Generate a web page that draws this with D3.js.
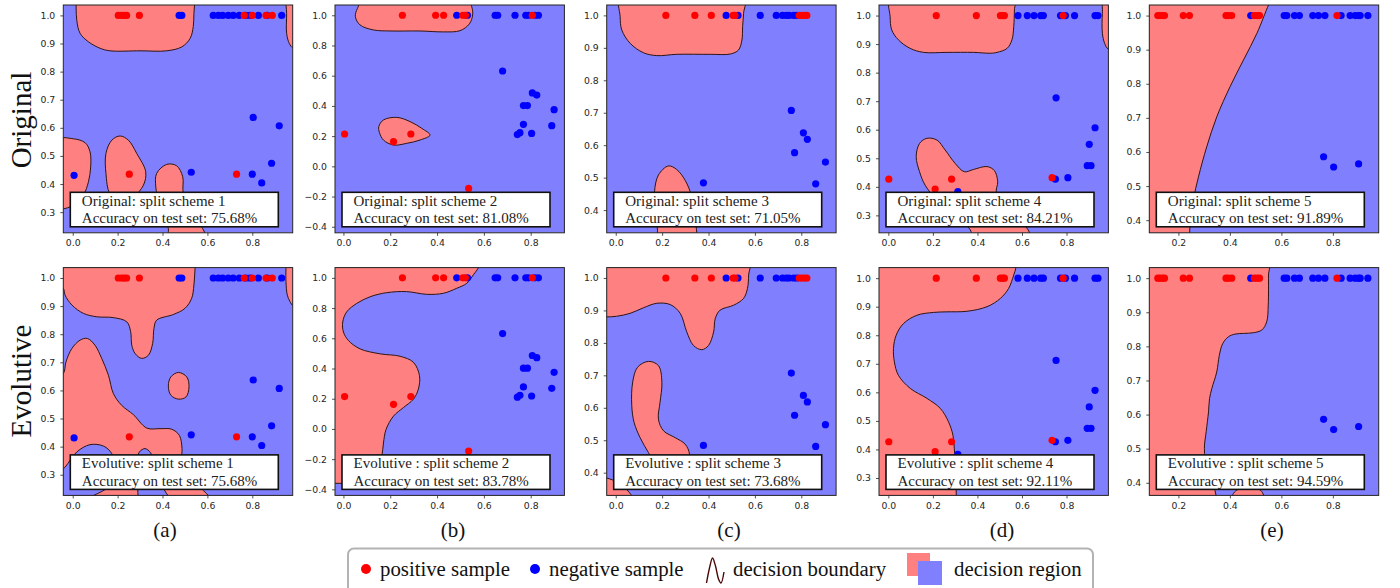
<!DOCTYPE html>
<html><head><meta charset="utf-8">
<script src="https://cdn.jsdelivr.net/npm/d3@7"></script>
<style>body{margin:0;background:#fff} svg{display:block}</style>
</head><body>
<svg id="chart" width="1400" height="588"></svg>
<script>
// ---------------- data ----------------
const columnLabels = ["(a)", "(b)", "(c)", "(d)", "(e)"];
const rowLabels = ["Original", "Evolutive"];
const legendLabels = ["positive sample", "negative sample", "decision boundary", "decision region"];

const xDomains = [[-0.042, 0.98], [-0.036, 0.944], [-0.039, 0.95], [-0.042, 0.988], [0.087, 0.978]];
const yDomains = [[0.2265, 1.037], [-0.44, 1.068], [0.33, 1.032], [0.239, 1.037], [0.363, 1.031]];
const xTicks = [[0, 0.2, 0.4, 0.6, 0.8], [0, 0.2, 0.4, 0.6, 0.8], [0, 0.2, 0.4, 0.6, 0.8], [0, 0.2, 0.4, 0.6, 0.8], [0.2, 0.4, 0.6, 0.8]];
const yTicks = [
  [0.3, 0.4, 0.5, 0.6, 0.7, 0.8, 0.9, 1.0],
  [-0.4, -0.2, 0.0, 0.2, 0.4, 0.6, 0.8, 1.0],
  [0.4, 0.5, 0.6, 0.7, 0.8, 0.9, 1.0],
  [0.3, 0.4, 0.5, 0.6, 0.7, 0.8, 0.9, 1.0],
  [0.4, 0.5, 0.6, 0.7, 0.8, 0.9, 1.0]
];

const originalTitles = ["Original: split scheme 1", "Original: split scheme 2", "Original: split scheme 3", "Original: split scheme 4", "Original: split scheme 5"];
const evolutiveTitles = ["Evolutive: split scheme 1", "Evolutive : split scheme 2", "Evolutive : split scheme 3", "Evolutive : split scheme 4", "Evolutive : split scheme 5"];
const originalAccuracy = [75.68, 81.08, 71.05, 84.21, 91.89];
const evolutiveAccuracy = [75.68, 83.78, 73.68, 92.11, 94.59];

// samples (same for both rows of a column)
const posA = [[0.203,1],[0.218,1],[0.229,1],[0.240,1],[0.297,1],[0.764,1],[0.800,1],[0.861,1],[0.889,1],[0.252,0.435],[0.730,0.435]];
const negA = [[0.474,1],[0.486,1],[0.626,1],[0.649,1],[0.668,1],[0.693,1],[0.715,1],[0.742,1],[0.771,1],[0.790,1],[0.827,1],[0.866,1],[0.931,1],[0.006,0.431],[0.528,0.442],[0.800,0.435],[0.842,0.404],[0.886,0.474],[0.804,0.637],[0.920,0.607]];
const posB = [[0.005,0.214],[0.214,0.163],[0.288,0.214],[0.535,-0.146],[0.252,1],[0.394,1],[0.428,1],[0.510,1],[0.521,1],[0.807,1]];
const negB = [[0.484,1],[0.530,1],[0.648,1],[0.659,1],[0.733,1],[0.779,1],[0.790,1],[0.818,1],[0.833,1],[0.680,0.631],[0.807,0.486],[0.826,0.472],[0.769,0.402],[0.786,0.402],[0.900,0.375],[0.769,0.278],[0.743,0.210],[0.754,0.223],[0.804,0.218],[0.890,0.269]];
const posC = [[0.216,1],[0.341,1],[0.412,1],[0.506,1],[0.514,1],[0.791,1],[0.803,1],[0.814,1],[0.824,1]];
const negC = [[0.476,1],[0.527,1],[0.623,1],[0.692,1],[0.719,1],[0.735,1],[0.747,1],[0.767,1],[0.781,1],[0.378,0.484],[0.757,0.707],[0.809,0.638],[0.826,0.618],[0.771,0.577],[0.904,0.548],[0.862,0.481]];
const posD = [[0.002,0.427],[0.210,0.392],[0.284,0.427],[0.735,0.432],[0.215,1],[0.395,1],[0.503,1],[0.513,1],[0.521,1],[0.785,1]];
const negD = [[0.750,0.427],[0.806,0.432],[0.312,0.383],[0.753,0.712],[0.928,0.607],[0.902,0.549],[0.893,0.474],[0.910,0.474],[0.582,1],[0.624,1],[0.654,1],[0.684,1],[0.696,1],[0.773,1],[0.795,1],[0.836,1],[0.928,1],[0.941,1]];
const posE = [[0.120,1],[0.129,1],[0.139,1],[0.146,1],[0.219,1],[0.243,1],[0.385,1],[0.394,1],[0.407,1],[0.495,1],[0.506,1],[0.515,1],[0.816,1]];
const negE = [[0.481,1],[0.611,1],[0.621,1],[0.651,1],[0.670,1],[0.722,1],[0.744,1],[0.769,1],[0.832,1],[0.867,1],[0.887,1],[0.900,1],[0.906,1],[0.936,1],[0.764,0.586],[0.803,0.556],[0.900,0.565]];

// positive decision regions (outlines in data units)
const origA = [
  [[0.015,1.12],[0.015,1.07],[0.018,0.983],[0.033,0.936],[0.07,0.906],[0.122,0.883],[0.166,0.874],[0.30,0.874],[0.419,0.874],[0.486,0.888],[0.523,0.918],[0.537,0.96],[0.54,1.007],[0.545,1.07],[0.545,1.12]],
  [[0.953,1.12],[0.953,1.007],[0.953,0.936],[0.965,0.90],[0.983,0.883],[1.04,0.883],[1.04,1.12]],
  [[-0.08,0.556],[0.003,0.561],[0.055,0.547],[0.077,0.515],[0.080,0.461],[0.070,0.408],[0.048,0.361],[0.010,0.329],[-0.034,0.313],[-0.08,0.313]],
  [[0.211,0.571],[0.248,0.556],[0.285,0.509],[0.325,0.444],[0.315,0.396],[0.27,0.355],[0.211,0.343],[0.166,0.366],[0.148,0.438],[0.148,0.509],[0.174,0.556]],
  [[0.419,0.47],[0.463,0.465],[0.49,0.426],[0.493,0.366],[0.537,0.295],[0.589,0.226],[0.597,0.20],[0.426,0.20],[0.426,0.242],[0.389,0.319],[0.370,0.39],[0.374,0.438]]
];
const evolA = [
  [[-0.071,1.11],[-0.071,0.975],[-0.042,0.963],[-0.034,0.939],[-0.004,0.904],[0.048,0.874],[0.107,0.862],[0.181,0.859],[0.241,0.844],[0.258,0.809],[0.263,0.761],[0.278,0.731],[0.307,0.714],[0.337,0.725],[0.356,0.767],[0.362,0.821],[0.374,0.85],[0.448,0.87],[0.5,0.892],[0.53,0.928],[0.54,0.975],[0.545,1.034],[0.552,1.11]],
  [[0.953,1.11],[0.950,1.034],[0.950,0.987],[0.956,0.939],[0.968,0.916],[0.983,0.901],[1.04,0.90],[1.04,1.11]],
  [[-0.071,0.654],[-0.042,0.66],[-0.03,0.702],[-0.004,0.749],[0.033,0.779],[0.065,0.785],[0.099,0.761],[0.129,0.714],[0.159,0.654],[0.181,0.589],[0.218,0.547],[0.27,0.514],[0.33,0.466],[0.389,0.464],[0.441,0.462],[0.475,0.44],[0.487,0.393],[0.486,0.345],[0.523,0.298],[0.582,0.244],[0.627,0.203],[0.627,0.155],[-0.071,0.155]],
  [[0.471,0.664],[0.508,0.648],[0.518,0.613],[0.505,0.577],[0.471,0.569],[0.437,0.583],[0.426,0.616],[0.437,0.648]]
];
const holesEvolA = [
  [[-0.071,0.298],[-0.034,0.327],[0.018,0.381],[0.077,0.407],[0.137,0.402],[0.174,0.375],[0.189,0.321],[0.166,0.262],[0.092,0.226],[0.018,0.203],[-0.071,0.203]],
  [[0.292,0.155],[0.292,0.203],[0.288,0.274],[0.285,0.345],[0.297,0.381],[0.322,0.393],[0.347,0.378],[0.367,0.333],[0.389,0.274],[0.419,0.232],[0.448,0.203],[0.448,0.155]]
];
const origB = [
  [[0.085,1.10],[0.06,1.046],[0.051,0.991],[0.071,0.936],[0.128,0.903],[0.199,0.896],[0.327,0.896],[0.427,0.89],[0.498,0.898],[0.538,0.943],[0.552,1.002],[0.548,1.057],[0.534,1.10]],
  [[0.151,0.263],[0.171,0.307],[0.228,0.324],[0.285,0.296],[0.335,0.251],[0.37,0.207],[0.327,0.174],[0.27,0.152],[0.214,0.141],[0.171,0.174],[0.154,0.223]]
];
const evolB = [
  [[0.584,1.109],[0.577,1.069],[0.555,1.02],[0.527,0.964],[0.484,0.931],[0.427,0.898],[0.356,0.891],[0.27,0.909],[0.185,0.902],[0.114,0.875],[0.057,0.831],[0.014,0.775],[-0.003,0.708],[0.0,0.642],[0.021,0.586],[0.071,0.53],[0.157,0.497],[0.242,0.481],[0.299,0.441],[0.325,0.352],[0.32,0.263],[0.299,0.197],[0.256,0.141],[0.214,0.085],[0.182,-0.004],[0.171,-0.093],[0.164,-0.182],[0.142,-0.293],[0.085,-0.349],[-0.043,-0.36],[-0.06,-0.36],[-0.06,1.109]]
];
const origC = [
  [[0.022,1.06],[0.019,0.996],[0.026,0.955],[0.062,0.914],[0.119,0.885],[0.177,0.876],[0.263,0.88],[0.407,0.88],[0.494,0.881],[0.529,0.893],[0.544,0.924],[0.547,0.965],[0.551,1.006],[0.554,1.06]],
  [[0.227,0.536],[0.263,0.525],[0.299,0.492],[0.328,0.441],[0.342,0.379],[0.35,0.328],[0.357,0.30],[0.177,0.30],[0.18,0.338],[0.17,0.40],[0.167,0.456],[0.184,0.508]]
];
const evolC = [
  [[-0.068,1.06],[-0.068,0.88],[-0.039,0.88],[0.004,0.882],[0.062,0.891],[0.119,0.908],[0.177,0.922],[0.235,0.918],[0.278,0.891],[0.306,0.834],[0.335,0.792],[0.371,0.779],[0.40,0.792],[0.422,0.834],[0.429,0.875],[0.45,0.901],[0.508,0.916],[0.551,0.937],[0.568,0.968],[0.573,1.009],[0.575,1.06]],
  [[0.141,0.743],[0.184,0.73],[0.199,0.679],[0.191,0.617],[0.184,0.565],[0.206,0.529],[0.256,0.508],[0.299,0.488],[0.318,0.457],[0.306,0.41],[0.235,0.40],[0.177,0.421],[0.141,0.462],[0.105,0.508],[0.079,0.555],[0.069,0.607],[0.073,0.679],[0.094,0.725]],
  [[-0.068,0.39],[-0.039,0.384],[0.012,0.369],[0.047,0.348],[0.069,0.328],[0.076,0.307],[-0.068,0.307]]
];
const origD = [
  [[0.011,1.06],[0.008,0.996],[0.015,0.95],[0.045,0.915],[0.098,0.885],[0.158,0.871],[0.263,0.871],[0.383,0.871],[0.458,0.868],[0.488,0.871],[0.533,0.885],[0.555,0.915],[0.563,0.961],[0.566,1.02],[0.566,1.06]],
  [[0.968,1.06],[0.961,1.008],[0.961,0.938],[0.971,0.903],[0.988,0.882],[1.028,0.88],[1.028,1.06]],
  [[0.173,0.570],[0.218,0.564],[0.255,0.529],[0.30,0.482],[0.341,0.453],[0.383,0.461],[0.443,0.471],[0.476,0.457],[0.491,0.418],[0.485,0.379],[0.533,0.33],[0.593,0.284],[0.635,0.239],[0.645,0.214],[0.383,0.214],[0.368,0.249],[0.293,0.307],[0.218,0.354],[0.165,0.406],[0.14,0.453],[0.125,0.506],[0.14,0.552]]
];
const evolD = [
  [[0.578,1.06],[0.573,1.037],[0.563,1.011],[0.54,0.964],[0.503,0.929],[0.443,0.90],[0.353,0.884],[0.263,0.882],[0.203,0.88],[0.128,0.87],[0.068,0.841],[0.035,0.80],[0.023,0.754],[0.027,0.707],[0.045,0.66],[0.098,0.614],[0.173,0.579],[0.233,0.544],[0.27,0.497],[0.29,0.45],[0.296,0.404],[0.30,0.357],[0.303,0.287],[0.305,0.24],[0.305,0.2],[-0.068,0.2],[-0.068,1.06]]
];
const origE = [
  [[0.064,1.051],[0.563,1.051],[0.55,1.031],[0.505,0.948],[0.453,0.87],[0.401,0.792],[0.349,0.703],[0.31,0.615],[0.278,0.527],[0.258,0.459],[0.245,0.38],[0.235,0.341],[0.064,0.341]]
];
const evolE = [
  [[0.064,1.048],[0.55,1.048],[0.55,1.009],[0.549,0.921],[0.543,0.872],[0.524,0.848],[0.492,0.84],[0.453,0.838],[0.42,0.836],[0.394,0.828],[0.372,0.808],[0.359,0.774],[0.349,0.725],[0.33,0.677],[0.321,0.647],[0.317,0.608],[0.308,0.55],[0.301,0.501],[0.31,0.442],[0.336,0.393],[0.346,0.364],[0.348,0.344],[0.064,0.344]],
  [[0.407,0.344],[0.414,0.369],[0.433,0.381],[0.466,0.386],[0.505,0.383],[0.524,0.374],[0.533,0.344]]
];

// ---------------- drawing ----------------
const RED_REGION = "#ff8080", BLUE_REGION = "#8080ff";
const BOUNDARY = "#2e1414";
const svg = d3.select("#chart");
const panelLeft = [63.3, 335, 606.7, 879, 1149.3];
const rowTop = [5, 267.6];
const PW = 229.4, PH = 227.8;

const regionsByRow = [[origA, origB, origC, origD, origE], [evolA, evolB, evolC, evolD, evolE]];
const holesByRow = [[[], [], [], [], []], [holesEvolA, [], [], [], []]];
const positives = [posA, posB, posC, posD, posE];
const negatives = [negA, negB, negC, negD, negE];
const titlesByRow = [originalTitles, evolutiveTitles];
const accByRow = [originalAccuracy, evolutiveAccuracy];

for (let r = 0; r < 2; r++) {
  for (let c = 0; c < 5; c++) {
    const x = d3.scaleLinear().domain(xDomains[c]).range([0, PW]);
    const y = d3.scaleLinear().domain(yDomains[c]).range([PH, 0]);
    const g = svg.append("g").attr("transform", `translate(${panelLeft[c]},${rowTop[r]})`);
    const id = `clip-${r}-${c}`;
    g.append("clipPath").attr("id", id).append("rect").attr("width", PW).attr("height", PH);
    const plot = g.append("g").attr("clip-path", `url(#${id})`);
    plot.append("rect").attr("width", PW).attr("height", PH).attr("fill", BLUE_REGION);
    const outline = d3.line().x(d => x(d[0])).y(d => y(d[1])).curve(d3.curveCatmullRomClosed.alpha(0.5));
    plot.selectAll("path.region").data(regionsByRow[r][c]).join("path")
      .attr("class", "region").attr("d", outline)
      .attr("fill", RED_REGION).attr("stroke", BOUNDARY).attr("stroke-width", 1);
    plot.selectAll("path.hole").data(holesByRow[r][c]).join("path")
      .attr("class", "hole").attr("d", outline)
      .attr("fill", BLUE_REGION).attr("stroke", BOUNDARY).attr("stroke-width", 1);
    plot.selectAll("circle.neg").data(negatives[c]).join("circle")
      .attr("class", "neg").attr("cx", d => x(d[0])).attr("cy", d => y(d[1])).attr("r", 3.6).attr("fill", "#0000ff");
    plot.selectAll("circle.pos").data(positives[c]).join("circle")
      .attr("class", "pos").attr("cx", d => x(d[0])).attr("cy", d => y(d[1])).attr("r", 3.6).attr("fill", "#ff0000");

    // axes
    const xa = g.append("g").attr("transform", `translate(0,${PH})`)
      .call(d3.axisBottom(x).tickValues(xTicks[c]).tickSize(3).tickPadding(4).tickFormat(d3.format(".1f")));
    const ya = g.append("g")
      .call(d3.axisLeft(y).tickValues(yTicks[c]).tickSize(3).tickPadding(5).tickFormat(d3.format(".1f")));
    [xa, ya].forEach(a => {
      a.select(".domain").remove();
      a.selectAll("line").attr("stroke", "#262626").attr("stroke-width", 0.8);
      a.selectAll("text").attr("fill", "#262626").style("font-family", "'DejaVu Sans', sans-serif").style("font-size", "9.3px");
    });
    g.append("rect").attr("width", PW).attr("height", PH).attr("fill", "none").attr("stroke", "#222").attr("stroke-width", 1);

    // annotation box
    const bx = 7, bh = 34.5, by = PH - 6 - bh, bw = 208;
    g.append("rect").attr("x", bx).attr("y", by).attr("width", bw).attr("height", bh)
      .attr("fill", "#fff").attr("stroke", "#111").attr("stroke-width", 1.6);
    const tt = g.append("text").attr("x", bx + 11.5).attr("y", by + 13.5)
      .style("font-family", "'Liberation Serif', 'Times New Roman', serif").style("font-size", "15px").attr("fill", "#222");
    tt.append("tspan").attr("x", bx + 11.5).attr("y", by + 13.5).text(titlesByRow[r][c]);
    tt.append("tspan").attr("x", bx + 11.5).attr("y", by + 31).text(`Accuracy on test set: ${accByRow[r][c].toFixed(2)}%`);
  }
}

// row labels
const rowLabelY = [120, 381];
rowLabels.forEach((t, i) => {
  svg.append("text").attr("transform", `translate(31,${rowLabelY[i]}) rotate(-90)`)
    .attr("text-anchor", "middle")
    .style("font-family", "'Liberation Serif', 'Times New Roman', serif").style("font-size", "29px").attr("fill", "#111")
    .text(t);
});

// column labels
const colLabelX = [165, 453, 729, 1002, 1272];
columnLabels.forEach((t, i) => {
  svg.append("text").attr("x", colLabelX[i]).attr("y", 537).attr("text-anchor", "middle")
    .style("font-family", "'Liberation Serif', 'Times New Roman', serif").style("font-size", "21px").attr("fill", "#111")
    .text(t);
});

// legend
const lg = svg.append("g");
lg.append("rect").attr("x", 348).attr("y", 548.5).attr("width", 745).attr("height", 52).attr("rx", 6)
  .attr("fill", "#fff").attr("stroke", "#b3b3b3").attr("stroke-width", 2);
const lfont = sel => sel.style("font-family", "'Liberation Serif', 'Times New Roman', serif").style("font-size", "20.8px").attr("fill", "#111");
lg.append("circle").attr("cx", 366).attr("cy", 569).attr("r", 5).attr("fill", "#ff0000");
lg.append("text").attr("x", 380).attr("y", 576).text(legendLabels[0]).call(lfont);
lg.append("circle").attr("cx", 535).attr("cy", 569).attr("r", 5).attr("fill", "#0000ff");
lg.append("text").attr("x", 549).attr("y", 576).text(legendLabels[1]).call(lfont);
const glyph = [[706.5, 583], [709.5, 568], [712.5, 558], [715.5, 566], [718.5, 579], [721, 583], [724, 572]];
lg.append("path").attr("d", d3.line().curve(d3.curveCatmullRom.alpha(0.5))(glyph))
  .attr("fill", "none").attr("stroke", "#4a0808").attr("stroke-width", 1.4);
lg.append("text").attr("x", 733).attr("y", 576).text(legendLabels[2]).call(lfont);
lg.append("rect").attr("x", 907).attr("y", 553).attr("width", 23).attr("height", 23).attr("fill", RED_REGION);
lg.append("rect").attr("x", 918).attr("y", 561).attr("width", 24).attr("height", 24).attr("fill", BLUE_REGION);
lg.append("text").attr("x", 954).attr("y", 576).text(legendLabels[3]).call(lfont);
</script>
</body></html>
